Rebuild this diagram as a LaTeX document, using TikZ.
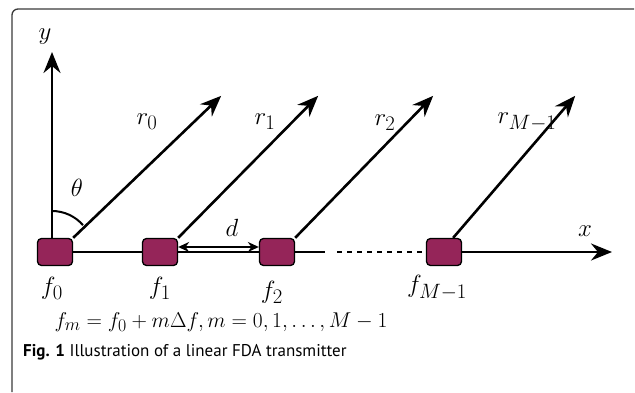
\documentclass[tikz,border=0pt]{standalone}
\usepackage{tikz}
\usetikzlibrary{positioning,arrows.meta,calc}
\usepackage{xcolor}
\usepackage{amsmath}
\usepackage{fontspec}
\newfontfamily\capfont{PT Sans}
\definecolor{ElemRed}{HTML}{952559}
\definecolor{FrameGray}{HTML}{3A3A3A}

\begin{document}
\begin{tikzpicture}[x=1pt,y=1pt,
        elem/.style={draw=black, line width=1.3pt, fill=ElemRed, rounded corners=4pt,
          minimum width=35pt, minimum height=27pt, inner sep=0pt},
        axis/.style={line width=2.6pt, -{Stealth[length=21pt,width=17pt,inset=7pt]}},
        lab/.style={font=\fontsize{24.88}{29}\selectfont, inner sep=0pt},
      ]
      \useasboundingbox (0,0) rectangle (635,392);
      % frame
      \draw[FrameGray, line width=1.3pt, rounded corners=6pt] (12,0) -- (12,383) -- (634,383);
      % elements
      \node[elem] (e0) at (55,140) {};
      \node[elem] (e1) at (160,140) {};
      \node[elem] (e2) at (277,140) {};
      \node[elem] (e3) at (444,140) {};
      % axes
      \draw[axis] (e0.north -| 52,0) -- (52,340);
      \node[lab] (ylab) at (45,355) {$y$};
      \draw[line width=2.6pt] (e0.east) -- (e1.west);
      \draw[line width=2.6pt] (e1.east) -- (e2.west);
      \draw[line width=2.6pt] (e2.east) -- (325,140);
      \draw[line width=2.6pt, dash pattern=on 5pt off 5pt] (337,140) -- (e3.west);
      \draw[axis] (e3.east) -- (612,140);
      \node[lab] (xlab) at (585,161) {$x$};
      % rays
      \draw[axis] (e0.north east) -- ++(148,142);
      \draw[axis] (e1.north east) -- ++(140,142);
      \draw[axis] (e2.north east) -- ++(138,142);
      \draw[axis] (e3.north east) ++(-9,0) -- ++(122,142);
      \node[lab] (r0) at (147,270) {$r_0$};
      \node[lab] (r1) at (265,270) {$r_1$};
      \node[lab] (r2) at (385,269) {$r_2$};
      \node[lab] (r3) at (527,270) {$r_{M-1}$};
      % angle
      \draw[line width=2pt] (52,181) arc[start angle=90, end angle=41, radius=41];
      \node[lab] (th) at (77,204) {$\theta$};
      % spacing
      \draw[line width=1.8pt, {Stealth[length=11pt,width=10pt]}-{Stealth[length=11pt,width=10pt]}]
        (e1.east |- 0,145) -- (e2.west |- 0,145);
      \node[lab] (dlab) at (232,164) {$d$};
      % frequencies
      \node[lab] (f0) at (52,104) {$f_0$};
      \node[lab] (f1) at (160,104) {$f_1$};
      \node[lab] (f2) at (272,100) {$f_2$};
      \node[lab] (f3) at (437,104) {$f_{M-1}$};
      \node[lab] (fm) at (221,70)
        {\scalebox{0.86}{$f_m = f_0 + m\Delta f, m=0,1,\ldots,M-1$}};
      % caption
      \node[anchor=west, inner sep=0pt, font=\capfont\fontsize{17}{20}\selectfont] (cap) at (23,40)
        {\textbf{Fig. 1} Illustration of a linear FDA transmitter};
    \end{tikzpicture}
\end{document}
